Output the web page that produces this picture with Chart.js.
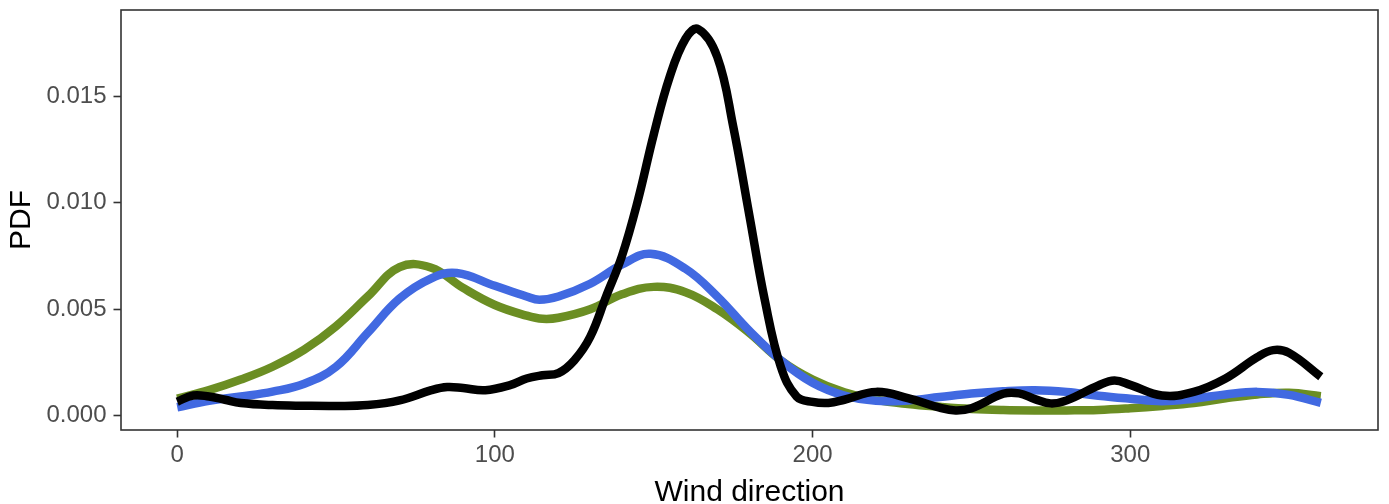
<!DOCTYPE html>
<html>
<head>
<meta charset="utf-8">
<script src="https://cdn.jsdelivr.net/npm/chart.js@4"></script>
<style>
  html, body { margin: 0; padding: 0; background: #fff; }
</style>
</head>
<body>
<canvas id="pdf-chart" width="1389" height="504"></canvas>
<script>
// Wind direction densities

const greenDir = [0, 10, 20, 30, 40, 50, 60, 70, 80, 90, 100, 110, 115, 120, 130, 140, 150, 160, 170, 180, 190, 200, 210, 220, 230, 240, 250, 260, 270, 280, 290, 300, 310, 320, 330, 340, 350, 360];
const greenPdf = [0.0008, 0.0012, 0.0017, 0.0023, 0.0031, 0.0042, 0.0056, 0.00698, 0.00695, 0.0060, 0.0052, 0.0047, 0.00455, 0.0046, 0.0050, 0.0057, 0.00605, 0.0058, 0.0050, 0.0039, 0.0026, 0.0017, 0.0011, 0.00075, 0.00055, 0.00042, 0.00032, 0.00027, 0.00025, 0.00025, 0.00027, 0.00035, 0.00046, 0.0006, 0.00082, 0.0010, 0.00108, 0.00092];

const blueDir = [0, 10, 20, 30, 40, 50, 60, 70, 80, 88, 100, 110, 114, 120, 130, 140, 149, 160, 170, 180, 190, 200, 210, 220, 230, 240, 250, 260, 270, 280, 290, 300, 310, 320, 330, 340, 350, 360];
const bluePdf = [0.0004, 0.0007, 0.0009, 0.00113, 0.0015, 0.0023, 0.0039, 0.0055, 0.00645, 0.0067, 0.0061, 0.0056, 0.00545, 0.0056, 0.0062, 0.0071, 0.0076, 0.0069, 0.0056, 0.0040, 0.0026, 0.00155, 0.00095, 0.0007, 0.00072, 0.00088, 0.00104, 0.00115, 0.0012, 0.00112, 0.00094, 0.0008, 0.00068, 0.0008, 0.0010, 0.00112, 0.00098, 0.0006];

const blackDir = [0, 5, 10, 15, 20, 30, 40, 50, 60, 70, 80, 85, 90, 97, 105, 110, 115, 120, 125, 130, 135, 140, 145, 150, 155, 160, 164, 170, 175, 180, 185, 190, 195, 200, 205, 210, 220, 230, 240, 245, 250, 260, 265, 270, 275, 280, 290, 295, 300, 310, 320, 330, 340, 345, 350, 360];
const blackPdf = [0.00066, 0.00095, 0.0009, 0.00075, 0.0006, 0.0005, 0.00047, 0.00046, 0.0005, 0.00072, 0.0012, 0.00135, 0.0013, 0.0012, 0.00145, 0.00175, 0.0019, 0.0020, 0.0026, 0.0037, 0.0056, 0.0075, 0.0101, 0.0132, 0.0159, 0.0177, 0.01815, 0.01685, 0.0136, 0.0095, 0.0054, 0.0023, 0.0009, 0.00065, 0.0006, 0.00075, 0.00112, 0.00083, 0.00038, 0.00025, 0.00035, 0.00103, 0.00105, 0.00078, 0.00058, 0.00072, 0.00142, 0.00165, 0.00145, 0.00095, 0.00112, 0.00175, 0.00275, 0.00308, 0.00295, 0.00183];

const xTicks = [0, 100, 200, 300];
const xTickLabels = ["0", "100", "200", "300"];
const yTicks = [0, 0.005, 0.010, 0.015];
const yTickLabels = ["0.000", "0.005", "0.010", "0.015"];

function toPoints(xs, ys) {
  return xs.map((x, i) => ({ x: x, y: ys[i] }));
}

// ggplot style panel border drawn over the plot
const panelBorder = {
  id: "panelBorder",
  afterDatasetsDraw(chart) {
    const { ctx, chartArea } = chart;
    ctx.save();
    ctx.strokeStyle = "#333333";
    ctx.lineWidth = 1.6;
    ctx.strokeRect(chartArea.left, chartArea.top, chartArea.right - chartArea.left, chartArea.bottom - chartArea.top);
    ctx.restore();
  }
};

const font = "'Liberation Sans', Arial, Helvetica, sans-serif";
const lineStyle = { fill: false, pointRadius: 0, borderWidth: 8.5, tension: 0.4 };

new Chart(document.getElementById("pdf-chart").getContext("2d"), {
  type: "line",
  data: {
    datasets: [
      Object.assign({ label: "black", data: toPoints(blackDir, blackPdf), borderColor: "#000000" }, lineStyle),
      Object.assign({ label: "blue", data: toPoints(blueDir, bluePdf), borderColor: "#4169E1" }, lineStyle),
      Object.assign({ label: "green", data: toPoints(greenDir, greenPdf), borderColor: "#6B8E23" }, lineStyle)
    ]
  },
  options: {
    responsive: false,
    animation: false,
    layout: { padding: { top: 10, right: 11, left: 0, bottom: 0 } },
    plugins: {
      legend: { display: false },
      tooltip: { enabled: false }
    },
    scales: {
      x: {
        type: "linear",
        min: -17.7,
        max: 378,
        afterBuildTicks: scale => { scale.ticks = xTicks.map(v => ({ value: v })); },
        afterFit: scale => { scale.height = 74; scale.paddingLeft = 0; scale.paddingRight = 0; },
        border: { display: false },
        grid: { drawOnChartArea: false, drawTicks: true, tickLength: 7.5, tickColor: "#333333", tickWidth: 1.6 },
        ticks: {
          color: "#4D4D4D",
          padding: 3,
          maxRotation: 0,
          font: { family: font, size: 24 },
          callback: (v, i) => xTickLabels[i]
        },
        title: {
          display: true,
          text: "Wind direction",
          color: "#000000",
          font: { family: font, size: 30, lineHeight: 0.75 },
          padding: { top: 0, bottom: 0 }
        }
      },
      y: {
        type: "linear",
        min: -0.00067,
        max: 0.01905,
        afterBuildTicks: scale => { scale.ticks = yTicks.map(v => ({ value: v })); },
        afterFit: scale => { scale.width = 121; scale.paddingTop = 0; scale.paddingBottom = 0; },
        border: { display: false },
        grid: { drawOnChartArea: false, drawTicks: true, tickLength: 7.5, tickColor: "#333333", tickWidth: 1.6 },
        ticks: {
          color: "#4D4D4D",
          padding: 7,
          font: { family: font, size: 24 },
          callback: (v, i) => yTickLabels[i]
        },
        title: {
          display: true,
          text: "PDF",
          color: "#000000",
          font: { family: font, size: 30, lineHeight: 1 },
          padding: { top: 7, bottom: 0 }
        }
      }
    }
  },
  plugins: [panelBorder]
});
</script>
</body>
</html>
